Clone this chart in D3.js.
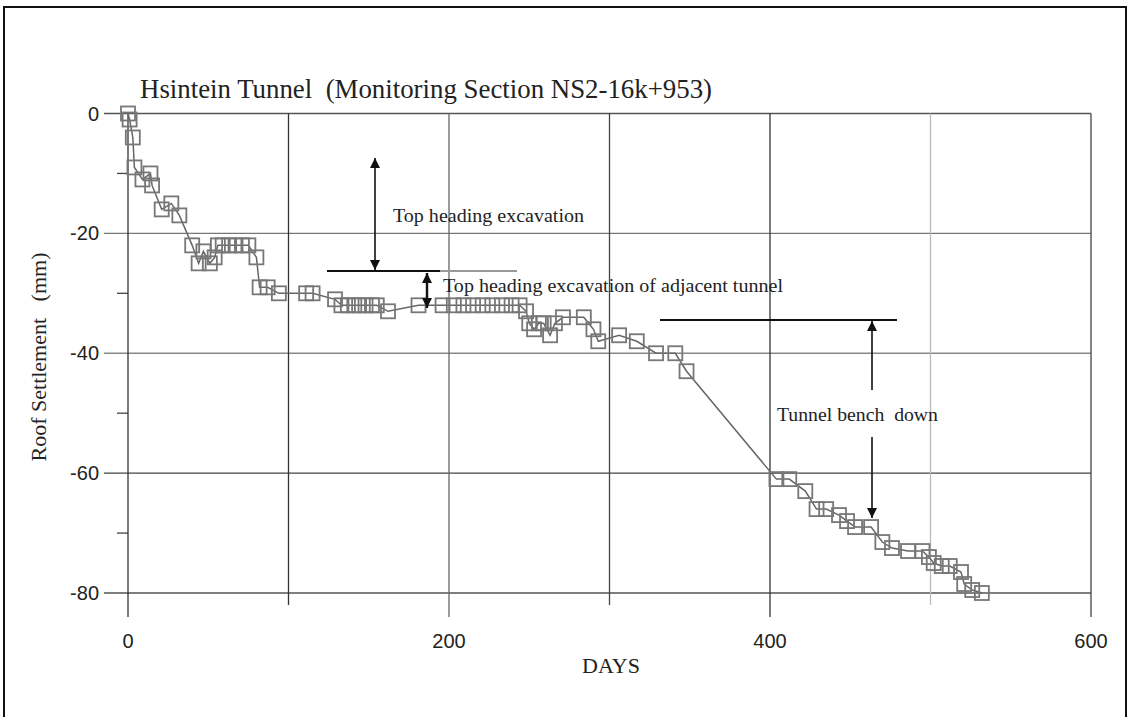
<!DOCTYPE html>
<html>
<head>
<meta charset="utf-8">
<script src="https://cdn.jsdelivr.net/npm/d3@7"></script>
<style>
  html, body { margin: 0; padding: 0; background: #fff; }
  svg { display: block; }
  text { white-space: pre; }
</style>
</head>
<body>
<svg id="chart" width="1130" height="717"></svg>
<script>
// Roof settlement record, Hsintein Tunnel, monitoring section NS2-16k+953
const days = [0, 1, 3, 4, 9, 14, 15, 21, 27, 32, 40, 44, 47, 51, 54, 56, 59, 63, 67, 71, 75, 80,
  82, 87, 94, 111, 115, 129, 133, 137, 141, 144, 148, 152, 155, 162, 181,
  196, 203, 209, 215, 221, 227, 233, 239, 244, 248, 250, 253, 256, 259, 263, 266, 271,
  284, 290, 293, 306, 317, 329, 341, 348,
  404, 412, 422, 429, 435, 443, 448, 453, 463, 470, 476, 486, 495, 499, 502, 507, 512, 519, 521, 526, 532];
const settlement = [0, -1, -4, -9, -11, -10, -12, -16, -15, -17, -22, -25, -23, -25, -24, -22, -22, -22, -22, -22, -22, -24,
  -29, -29, -30, -30, -30, -31, -32, -32, -32, -32, -32, -32, -32, -33, -32,
  -32, -32, -32, -32, -32, -32, -32, -32, -32, -33, -35, -36, -35, -35, -37, -35, -34,
  -34, -36, -38, -37, -38, -40, -40, -43,
  -61, -61, -63, -66, -66, -67, -68, -69, -69, -71.5, -72.5, -73, -73, -74, -75, -75.5, -75.5, -76.5, -78.5, -79.5, -80];

const xTicks = [0, 200, 400, 600];
const xMinorTicks = [100, 300, 500];
const yTicks = [0, -20, -40, -60, -80];
const yMinorTicks = [-10, -30, -50, -70];

const titleText = "Hsintein Tunnel  (Monitoring Section NS2-16k+953)";
const yLabel = "Roof Settlement   (mm)";
const xLabel = "DAYS";

const noteTop = "Top heading excavation";
const noteAdjacent = "Top heading excavation of adjacent tunnel";
const noteBench = "Tunnel bench  down";

const svg = d3.select("#chart");
const x = d3.scaleLinear().domain([0, 600]).range([128, 1091]);
const y = d3.scaleLinear().domain([0, -80]).range([113.5, 593]);

const serif = "'Liberation Serif', 'Times New Roman', serif";
const sans = "'Liberation Sans Narrow', 'Liberation Sans', Arial, sans-serif";

// outer frame
svg.append("rect").attr("x", 4).attr("y", 7).attr("width", 1122).attr("height", 730)
  .attr("fill", "none").attr("stroke", "#111").attr("stroke-width", 2);

const grid = svg.append("g");
const vColor = {0: "#333", 100: "#333", 200: "#666", 300: "#444", 400: "#333", 500: "#bbb", 600: "#444"};
const hColor = {"0": "#555", "-20": "#777", "-40": "#888", "-60": "#444", "-80": "#555"};

// horizontal grid lines with outward major ticks
grid.selectAll("line.h").data(yTicks).join("line")
  .attr("x1", x(0) - 24).attr("x2", x(600))
  .attr("y1", d => y(d)).attr("y2", d => y(d))
  .attr("stroke", d => hColor[d]).attr("stroke-width", 1.3);
// minor ticks on the settlement axis
grid.selectAll("line.hm").data(yMinorTicks).join("line")
  .attr("x1", x(0) - 11).attr("x2", x(0))
  .attr("y1", d => y(d)).attr("y2", d => y(d))
  .attr("stroke", "#444").attr("stroke-width", 1.3);
// vertical grid lines extending below the axis as ticks
grid.selectAll("line.v").data(xTicks.concat(xMinorTicks)).join("line")
  .attr("x1", d => x(d)).attr("x2", d => x(d))
  .attr("y1", y(0)).attr("y2", d => xTicks.includes(d) ? y(-80) + 24 : y(-80) + 12)
  .attr("stroke", d => vColor[d]).attr("stroke-width", 1.3);

// tick labels
svg.append("g").selectAll("text").data(xTicks).join("text")
  .attr("x", d => x(d)).attr("y", 648)
  .attr("text-anchor", "middle")
  .attr("font-family", sans).attr("font-size", 20).attr("fill", "#222")
  .text(d => d);
svg.append("g").selectAll("text").data(yTicks).join("text")
  .attr("x", 99).attr("y", d => y(d) + 7)
  .attr("text-anchor", "end")
  .attr("font-family", sans).attr("font-size", 20).attr("fill", "#222")
  .text(d => d);

// axis titles
svg.append("text").attr("x", 611).attr("y", 673).attr("text-anchor", "middle")
  .attr("font-family", serif).attr("font-size", 22).attr("fill", "#222").text(xLabel);
svg.append("text").attr("transform", "translate(46,357) rotate(-90)").attr("text-anchor", "middle")
  .attr("font-family", serif).attr("font-size", 22).attr("fill", "#222").text(yLabel);
svg.append("text").attr("x", 140).attr("y", 98)
  .attr("font-family", serif).attr("font-size", 27).attr("fill", "#222")
  .attr("textLength", 572).attr("lengthAdjust", "spacingAndGlyphs")
  .text(titleText);

// settlement curve
const line = d3.line().x((d, i) => x(days[i])).y(d => y(d));
svg.append("path").datum(settlement)
  .attr("d", line).attr("fill", "none").attr("stroke", "#666").attr("stroke-width", 1.5);
const s = 14;
svg.append("g").selectAll("rect").data(settlement).join("rect")
  .attr("x", (d, i) => x(days[i]) - s / 2).attr("y", d => y(d) - s / 2)
  .attr("width", s).attr("height", s)
  .attr("fill", "none").attr("stroke", "#777").attr("stroke-width", 1.8);

// annotation arrows
const defs = svg.append("defs");
defs.append("marker").attr("id", "head").attr("viewBox", "0 0 10 10")
  .attr("refX", 10).attr("refY", 5).attr("markerWidth", 10).attr("markerHeight", 10)
  .attr("markerUnits", "userSpaceOnUse").attr("orient", "auto-start-reverse")
  .append("path").attr("d", "M0,0 L10,5 L0,10 Z").attr("fill", "#111");

const ann = svg.append("g").attr("stroke", "#111").attr("stroke-width", 1.6);
// top heading excavation
ann.append("line").attr("x1", 327).attr("x2", 440).attr("y1", 271).attr("y2", 271).attr("stroke-width", 2);
ann.append("line").attr("x1", 440).attr("x2", 517).attr("y1", 271).attr("y2", 271).attr("stroke", "#999").attr("stroke-width", 2);
ann.append("line").attr("x1", 375).attr("x2", 375).attr("y1", 158).attr("y2", 270)
  .attr("marker-start", "url(#head)").attr("marker-end", "url(#head)");
// adjacent tunnel
ann.append("line").attr("x1", 427).attr("x2", 427).attr("y1", 273).attr("y2", 308)
  .attr("stroke-width", 2.4)
  .attr("marker-start", "url(#head)").attr("marker-end", "url(#head)");
// bench down
ann.append("line").attr("x1", 660).attr("x2", 897).attr("y1", 320).attr("y2", 320).attr("stroke-width", 2);
ann.append("line").attr("x1", 872).attr("x2", 872).attr("y1", 390).attr("y2", 321)
  .attr("marker-end", "url(#head)");
ann.append("line").attr("x1", 872).attr("x2", 872).attr("y1", 437).attr("y2", 518)
  .attr("marker-end", "url(#head)");

const notes = svg.append("g").attr("font-family", serif).attr("font-size", 19.5).attr("fill", "#222");
notes.append("text").attr("x", 393).attr("y", 222).attr("textLength", 191).attr("lengthAdjust", "spacingAndGlyphs").text(noteTop);
notes.append("text").attr("x", 443).attr("y", 292).attr("textLength", 340).attr("lengthAdjust", "spacingAndGlyphs").text(noteAdjacent);
notes.append("text").attr("x", 777).attr("y", 421).attr("textLength", 161).attr("lengthAdjust", "spacingAndGlyphs").text(noteBench);
</script>
</body>
</html>
